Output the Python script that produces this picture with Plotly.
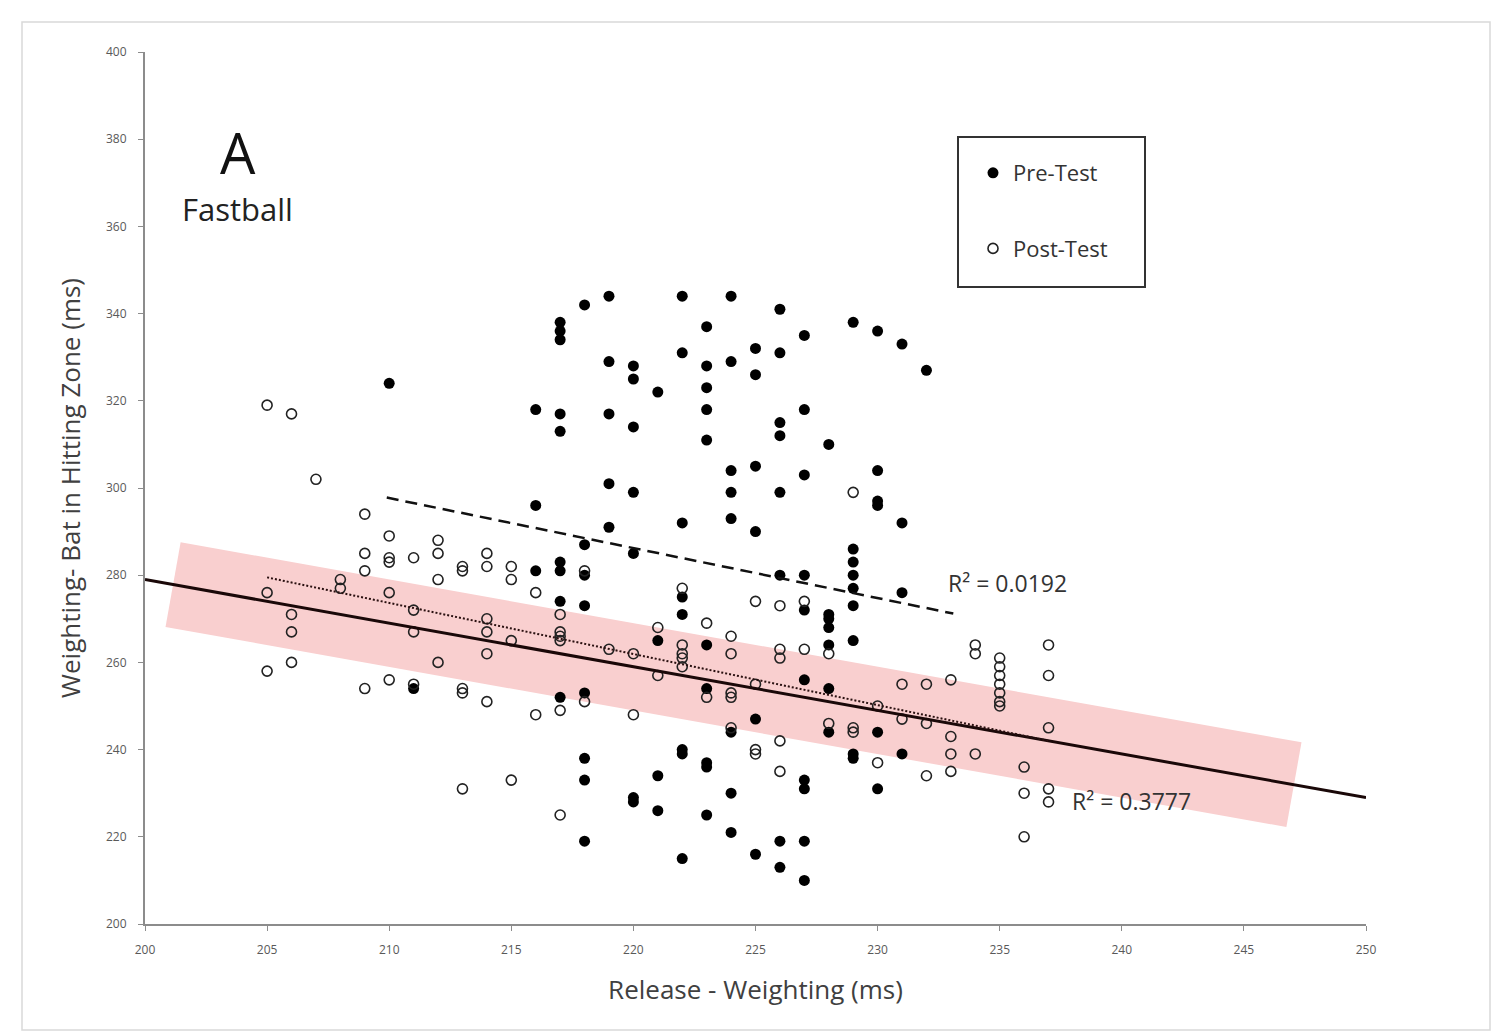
import plotly.graph_objects as go

# ---------------- data ----------------
pre_x = ([210, 211] + [216]*3 + [217]*9 + [218]*8 + [219]*5 + [220]*7 + [221]*4 +
         [222]*8 + [223]*10 + [224]*8 + [225]*6 + [226]*8 + [227]*10 + [228]*7 +
         [229]*9 + [230]*6 + [231]*4 + [232])
pre_y = ([324, 254] +
         [318, 296, 281] +
         [338, 336, 334, 317, 313, 283, 281, 274, 252] +
         [342, 287, 280, 273, 253, 238, 233, 219] +
         [344, 329, 317, 301, 291] +
         [328, 325, 314, 299, 285, 229, 228] +
         [322, 265, 234, 226] +
         [344, 331, 292, 275, 271, 240, 239, 215] +
         [337, 328, 323, 318, 311, 264, 254, 237, 236, 225] +
         [344, 329, 304, 299, 293, 244, 230, 221] +
         [332, 326, 305, 290, 247, 216] +
         [341, 331, 315, 312, 299, 280, 219, 213] +
         [335, 318, 303, 280, 272, 256, 233, 231, 219, 210] +
         [310, 271, 270, 268, 264, 254, 244] +
         [338, 286, 283, 280, 277, 273, 265, 239, 238] +
         [336, 304, 297, 296, 244, 231] +
         [333, 292, 276, 239] +
         [327])

post_x = ([205]*3 + [206]*4 + [207] + [208]*2 + [209]*4 + [210]*5 + [211]*4 +
          [212]*4 + [213]*5 + [214]*6 + [215]*4 + [216]*2 + [217]*6 + [218]*2 +
          [219] + [220]*2 + [221]*2 + [222]*5 + [223]*2 + [224]*5 + [225]*4 +
          [226]*5 + [227]*2 + [228]*2 + [229]*3 + [230]*2 + [231]*2 + [232]*3 +
          [233]*4 + [234]*3 + [235]*7 + [236]*3 + [237]*5)
post_y = ([319, 276, 258] +
          [317, 271, 267, 260] +
          [302] +
          [279, 277] +
          [294, 285, 281, 254] +
          [289, 284, 283, 276, 256] +
          [284, 272, 267, 255] +
          [288, 285, 279, 260] +
          [282, 281, 254, 253, 231] +
          [285, 282, 270, 267, 262, 251] +
          [282, 279, 265, 233] +
          [276, 248] +
          [271, 267, 266, 265, 249, 225] +
          [281, 251] +
          [263] +
          [262, 248] +
          [268, 257] +
          [277, 264, 262, 261, 259] +
          [269, 252] +
          [266, 262, 253, 252, 245] +
          [274, 255, 240, 239] +
          [273, 263, 261, 242, 235] +
          [274, 263] +
          [262, 246] +
          [299, 245, 244] +
          [250, 237] +
          [255, 247] +
          [255, 246, 234] +
          [256, 243, 239, 235] +
          [264, 262, 239] +
          [261, 259, 257, 255, 253, 251, 250] +
          [236, 230, 220] +
          [264, 257, 245, 231, 228])

# trend lines (end points)
overall_x = [200, 250]
overall_y = [279, 229]
band_x = [201.15, 247.05]
band_y = [279 - (201.15 - 200) * 1.0, 279 - (247.05 - 200) * 1.0]
pre_trend_x = [209.9, 233.1]
pre_trend_y = [297.8, 271.2]
post_trend_x = [205, 237]
post_trend_y = [279.5, 242.0]

x_ticks = [200, 205, 210, 215, 220, 225, 230, 235, 240, 245, 250]
y_ticks = [200, 220, 240, 260, 280, 300, 320, 340, 360, 380, 400]

FONT = "Open Sans"

fig = go.Figure()

# pink band (thick stroke along the overall regression line)
fig.add_trace(go.Scatter(x=band_x, y=band_y, mode="lines",
                         line=dict(color="#F9CFCF", width=86),
                         showlegend=False, hoverinfo="skip"))

fig.add_trace(go.Scatter(x=pre_x, y=pre_y, mode="markers", name="Pre-Test",
                         legendgroup="pre",
                         marker=dict(symbol="circle", size=11, color="black",
                                     line=dict(width=0))))
fig.add_trace(go.Scatter(x=post_x, y=post_y, mode="markers", name="Post-Test",
                         legendgroup="post",
                         marker=dict(symbol="circle-open", size=10, color="#222222",
                                     line=dict(width=1.6))))

fig.add_trace(go.Scatter(x=overall_x, y=overall_y, mode="lines",
                         line=dict(color="#1a0808", width=3),
                         showlegend=False, hoverinfo="skip"))
fig.add_trace(go.Scatter(x=pre_trend_x, y=pre_trend_y, mode="lines",
                         line=dict(color="#111111", width=2.5, dash="12px,7px"),
                         showlegend=False, hoverinfo="skip"))
fig.add_trace(go.Scatter(x=post_trend_x, y=post_trend_y, mode="lines",
                         line=dict(color="#2a1010", width=2, dash="2px,2px"),
                         showlegend=False, hoverinfo="skip"))

axis_common = dict(showgrid=False, zeroline=False, showline=True,
                   linecolor="#8c8c8c", linewidth=2, ticks="outside",
                   ticklen=5, tickcolor="#8c8c8c", tickwidth=1,
                   tickfont=dict(family=FONT, size=12, color="#595959"))

fig.update_xaxes(range=[200, 250], tickvals=x_ticks, ticklabelstandoff=9,
                 title=dict(text="Release - Weighting (ms)", standoff=23,
                            font=dict(family=FONT, size=26, color="#404040")),
                 **axis_common)
fig.update_yaxes(range=[200, 400], tickvals=y_ticks, ticklabelstandoff=9,
                 title=dict(text="Weighting- Bat in Hitting Zone (ms)", standoff=18,
                            font=dict(family=FONT, size=26, color="#404040")),
                 **axis_common)

annotations = [
    dict(x=203.8, y=377, text="A", showarrow=False, xref="x", yref="y",
         font=dict(family=FONT, size=56, color="#111111")),
    dict(x=203.8, y=364, text="Fastball", showarrow=False, xref="x", yref="y",
         font=dict(family=FONT, size=31, color="#222222")),
    dict(x=235.3, y=278.2, text="R² = 0.0192", showarrow=False, xref="x", yref="y",
         font=dict(family=FONT, size=23, color="#333333")),
    dict(x=240.4, y=228.2, text="R² = 0.3777", showarrow=False, xref="x", yref="y",
         font=dict(family=FONT, size=23, color="#333333")),
]

PL, PT, PW, PH = 145, 52, 1221, 872  # plot area in window pixels

shapes = [
    # legend box
    dict(type="rect", xref="paper", yref="paper",
         x0=(958 - PL) / PW, x1=(1145 - PL) / PW,
         y0=(PT + PH - 287) / PH, y1=(PT + PH - 137) / PH,
         line=dict(color="#333333", width=2), fillcolor="rgba(0,0,0,0)"),
    # outer chart border
    dict(type="rect", xref="paper", yref="paper",
         x0=(22 - PL) / PW, x1=(1490 - PL) / PW,
         y0=(PT + PH - 1030) / PH, y1=(PT + PH - 22) / PH,
         line=dict(color="#d9d9d9", width=1.5), fillcolor="rgba(0,0,0,0)"),
]

# page body has an 8px margin, so offset the figure margins accordingly
fig.update_layout(
    width=1511, height=1034,
    margin=dict(l=PL - 8, r=1511 - PL - PW + 8, t=PT - 8, b=1034 - PT - PH + 8),
    paper_bgcolor="white", plot_bgcolor="white",
    font=dict(family=FONT),
    annotations=annotations, shapes=shapes,
    legend=dict(x=(973 - PL) / PW, y=(PT + PH - 152) / PH, xanchor="left", yanchor="top",
                bgcolor="rgba(0,0,0,0)", borderwidth=0,
                font=dict(family=FONT, size=22, color="#333333"),
                tracegroupgap=44, traceorder="grouped"),
)

fig.write_html("out.html")
